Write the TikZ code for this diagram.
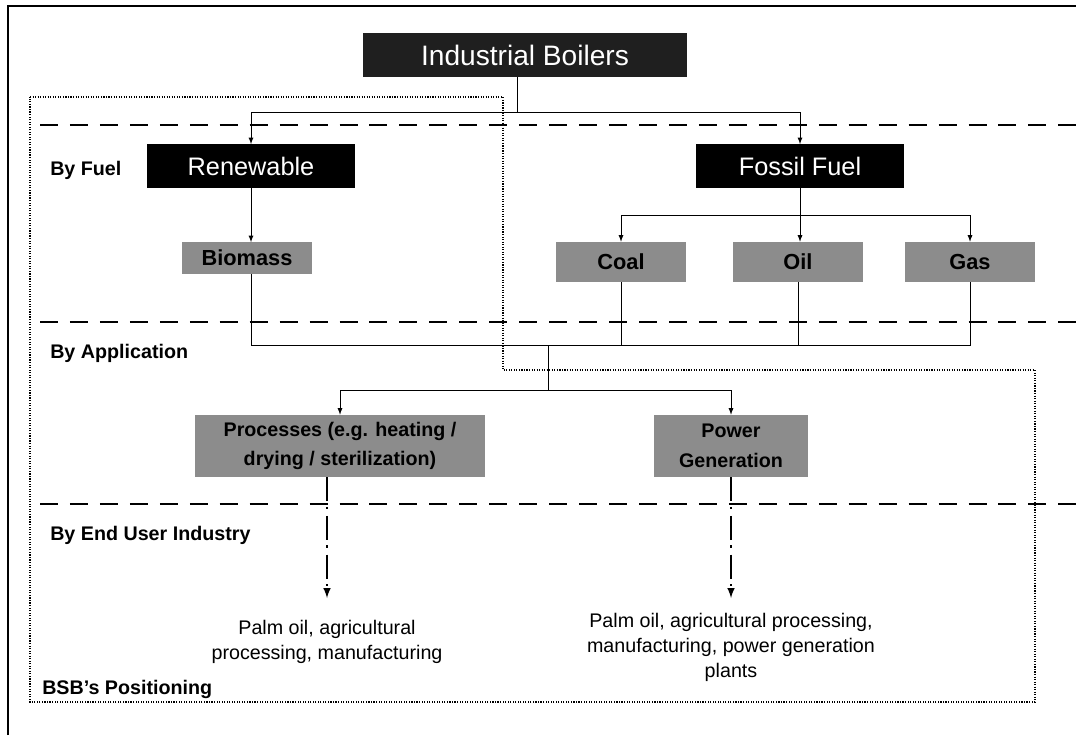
\documentclass[tikz,border=0pt]{standalone}
\usepackage{fontspec}
\setmainfont{Liberation Sans}
\usetikzlibrary{arrows}

\begin{document}
\begin{tikzpicture}[x=0.025cm,y=-0.025cm,
		blk/.style={fill=black,text=white,minimum width=5.22cm,minimum height=1.08cm,inner sep=0pt,font=\fontsize{18}{20}\selectfont},
		gry/.style={fill=black!45,minimum width=3.25cm,minimum height=1cm,inner sep=0pt,font=\bfseries\fontsize{15.5}{18}\selectfont},
		app/.style={fill=black!45,minimum height=1.55cm,inner sep=0pt,align=center,font=\bfseries\fontsize{14}{21}\selectfont},
		lbl/.style={anchor=west,inner sep=0pt,font=\bfseries\fontsize{14}{16}\selectfont},
		usr/.style={anchor=north,align=center,inner sep=0pt,font=\fontsize{14}{17.8}\selectfont},
		sep/.style={line width=1.3pt,dash pattern=on 12.8pt off 8.5pt},
		ln/.style={line width=0.6pt},
		dd/.style={line width=1.4pt,dash pattern=on 17pt off 4pt on 1.5pt off 5pt}]
	\useasboundingbox (0,0) rectangle (1076,735);
	% frame and separators
	\draw[line width=1pt] (8,735) -- (8,6) -- (1076,6);
	\draw[densely dotted,line width=0.8pt] (30,97) -- (503,97) -- (503,370) -- (1035,370)
		-- (1035,702) -- (30,702) -- cycle;
	\draw[sep] (40,125) -- (1076,125);
	\draw[sep] (40,322) -- (1076,322);
	\draw[sep] (40,504) -- (1076,504);
	% level labels
	\node [lbl] (fuel) at (50,170) {By Fuel};
	\node [lbl] (appl) at (50,353) {By Application};
	\node [lbl] (user) at (50,535) {By End User Industry};
	\node [lbl] (bsb) at (42,689) {BSB's Positioning};
	% boxes
	\node [blk,fill=black!88,minimum width=8.12cm,minimum height=1.1cm,font=\fontsize{20}{22}\selectfont]
		(boilers) at (525,55) {Industrial Boilers};
	\node [blk] (renew) at (251,166) {Renewable};
	\node [blk] (fossil) at (800,166) {Fossil Fuel};
	\node [gry,minimum height=0.78cm] (biomass) at (247,258) {Biomass};
	\node [gry] (coal) at (621,262) {Coal};
	\node [gry] (oil) at (798,262) {Oil};
	\node [gry] (gas) at (970,262) {Gas};
	\node [app,minimum width=7.25cm] (proc) at (340,446) {Processes (e.g. heating /\\drying / sterilization)};
	\node [app,minimum width=3.85cm] (power) at (731,446) {Power\\Generation};
	\node [usr] (palm1) at (327,620) {Palm oil, agricultural\\processing, manufacturing};
	\node [usr] (palm2) at (731,613) {Palm oil, agricultural processing,\\manufacturing, power generation\\plants};
	% connectors
	\coordinate (split1) at (517,112);
	\coordinate (split2) at (800,215);
	\coordinate (merge) at (548,345);
	\coordinate (split3) at (548,390);
	\coordinate (end1) at (327,598);
	\coordinate (end2) at (731,598);
	\draw[ln] (split1 |- boilers.south) -- (split1);
	\draw[ln,-latex] (split1) -| (renew.north);
	\draw[ln,-latex] (split1) -| (fossil.north);
	\draw[ln,-latex] (renew.south) -- (renew.south |- biomass.north);
	\draw[ln] (fossil.south) -- (split2);
	\draw[ln,-latex] (split2) -| (coal.north);
	\draw[ln,-latex] (split2) -- (oil.north -| split2);
	\draw[ln,-latex] (split2) -| (gas.north);
	\draw[ln] (renew.south |- biomass.south) |- (merge);
	\draw[ln] (gas.south) |- (merge);
	\draw[ln] (coal.south) -- (coal.south |- merge);
	\draw[ln] (oil.south) -- (oil.south |- merge);
	\draw[ln] (merge) -- (split3);
	\draw[ln,-latex] (split3) -| (proc.north);
	\draw[ln,-latex] (split3) -| (power.north);
	\draw[dd,-latex] (proc.south -| end1) -- (end1);
	\draw[dd,-latex] (power.south) -- (end2);
\end{tikzpicture}
\end{document}
